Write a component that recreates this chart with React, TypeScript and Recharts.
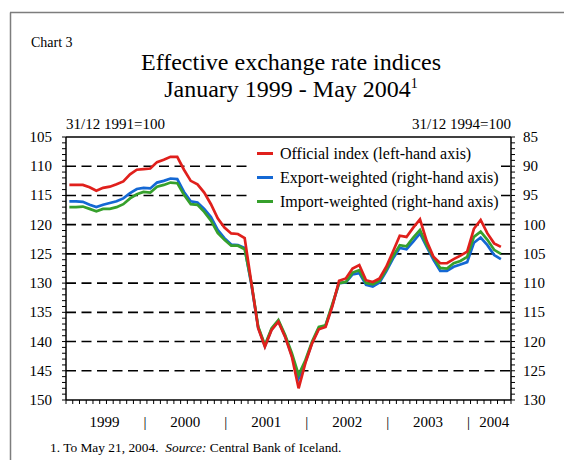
import { LineChart, Line, XAxis, YAxis, ReferenceLine, Legend } from "recharts";

const FONT = '"Liberation Serif", "Times New Roman", serif';
const RED = "#e0201c";
const BLUE = "#1468d4";
const GREEN = "#36a02c";

const years = ["1999", "2000", "2001", "2002", "2003", "2004"];
const monthNames = ["Jan", "Feb", "Mar", "Apr", "May", "Jun", "Jul", "Aug", "Sep", "Oct", "Nov", "Dec"];

// monthly averages, Jan 1999 - May 2004
const official = [
  113.2, 113.2, 113.2, 113.6, 114.2, 113.7, 113.5, 113.1, 112.6, 111.4, 110.6, 110.5,
  110.4, 109.3, 108.9, 108.4, 108.4, 110.6, 112.5, 113.1, 114.5, 116.5, 118.9, 120.5,
  121.5, 121.6, 122.3, 130.0, 137.7, 140.9, 138.0, 136.6, 139.2, 142.6, 148.0, 143.7,
  140.3, 137.9, 137.5, 134.0, 129.6, 129.2, 127.5, 126.9, 129.5, 129.8, 129.2, 127.2,
  124.6, 121.9, 122.1, 120.5, 119.1, 122.8, 125.5, 126.6, 126.6, 125.9, 125.3, 124.6,
  120.7, 119.2, 121.5, 123.2, 123.8,
];
const exportWeighted = [
  96.0, 96.0, 96.1, 96.6, 97.0, 96.6, 96.3, 96.0, 95.5, 94.6, 93.9, 93.7,
  93.8, 92.8, 92.5, 92.1, 92.2, 94.4, 96.0, 96.2, 97.3, 98.7, 100.9, 102.3,
  103.4, 103.5, 104.0, 110.3, 117.6, 120.8, 117.9, 116.5, 119.1, 122.4, 126.3, 123.5,
  120.2, 117.7, 117.3, 113.8, 110.0, 109.9, 108.5, 108.3, 110.3, 110.6, 109.9, 108.0,
  105.8, 104.0, 104.2, 102.9, 101.5, 103.8, 106.0, 107.9, 107.9, 107.2, 106.8, 106.4,
  103.1, 102.2, 103.5, 105.2, 105.9,
];
const importWeighted = [
  97.0, 97.0, 96.9, 97.3, 97.7, 97.3, 97.3, 97.0, 96.5, 95.5, 94.8, 94.4,
  94.5, 93.5, 93.2, 92.8, 92.9, 94.9, 96.5, 96.6, 97.8, 99.3, 101.4, 102.6,
  103.6, 103.6, 104.2, 110.0, 117.4, 120.6, 117.7, 116.3, 118.9, 122.0, 125.7, 123.2,
  120.0, 117.5, 117.2, 113.6, 110.0, 109.8, 108.2, 107.8, 110.0, 110.2, 109.6, 107.7,
  105.4, 103.5, 103.7, 102.2, 100.9, 103.5, 105.6, 107.4, 107.5, 106.6, 106.2, 105.5,
  102.1, 101.2, 102.6, 104.3, 105.0,
];

const leftTicks = Array.from({ length: 46 }, (_, i) => 105 + i);
const rightTicks = Array.from({ length: 46 }, (_, i) => 85 + i);
const gridLevels = [110, 115, 120, 125, 130, 135, 140, 145];
const yearLabelAt = [6, 18, 30, 42, 54, 63.8];
const yearSepAt = [12, 24, 36, 48, 60];
const monthTicks = Array.from({ length: 67 }, (_, i) => i);
const xTicks = [...monthTicks, 63.8].sort((a, b) => a - b);

const series = [
  { key: "official", label: "Official index (left-hand axis)", color: RED },
  { key: "exp", label: "Export-weighted (right-hand axis)", color: BLUE },
  { key: "imp", label: "Import-weighted (right-hand axis)", color: GREEN },
];

const data = official.map((v, i) => ({
  t: i + 0.5,
  month: `${monthNames[i % 12]} ${years[Math.floor(i / 12)]}`,
  official: v,
  exp: exportWeighted[i],
  imp: importWeighted[i],
}));

// eslint-disable-next-line @typescript-eslint/no-explicit-any
function MonthTick({ x, y, payload }: any) {
  const v = payload.value;
  const yr = yearLabelAt.indexOf(v);
  return (
    <g>
      {Number.isInteger(v) && <line x1={x} x2={x} y1={y} y2={y + 4} stroke="#000" strokeWidth={1} />}
      {yr >= 0 && (
        <text x={x - 2} y={y + 26.5} textAnchor="middle" fontSize={15} fontFamily={FONT} fill="#000">
          {years[yr]}
        </text>
      )}
      {yearSepAt.includes(v) && (
        <text x={x - 2} y={y + 26.5} textAnchor="middle" fontSize={15} fontFamily={FONT} fill="#000">
          |
        </text>
      )}
    </g>
  );
}

// eslint-disable-next-line @typescript-eslint/no-explicit-any
function ValueTick({ x, y, payload, textAnchor }: any) {
  if (payload.value % 5 !== 0) return <g />;
  return (
    <text x={x} y={y} dy={5} textAnchor={textAnchor} fontSize={15} fontFamily={FONT} fill="#000">
      {payload.value}
    </text>
  );
}

function LegendBox() {
  return (
    <div style={{ width: 254, height: 72, background: "#fff", position: "relative", fontFamily: FONT }}>
      {series.map((s, i) => (
        <div
          key={s.key}
          style={{ position: "absolute", left: 10, top: 3.5 + i * 24, height: 20, display: "flex", alignItems: "center" }}
        >
          <span style={{ display: "inline-block", width: 16, height: 3, background: s.color, marginRight: 7 }} />
          <span style={{ fontSize: 16, lineHeight: "20px", color: "#000", whiteSpace: "nowrap" }}>{s.label}</span>
        </div>
      ))}
    </div>
  );
}

export default function App() {
  return (
    <div style={{ position: "absolute", left: 0, top: 0, width: 564, height: 460, background: "#fff", fontFamily: FONT }}>
      <LineChart width={564} height={460} data={data} margin={{ top: 137, right: 0, bottom: 30, left: 0 }}>
        <XAxis
          dataKey="t"
          type="number"
          domain={[0, 66]}
          ticks={xTicks}
          interval={0}
          tickLine={false}
          tickSize={0}
          tickMargin={0}
          tick={<MonthTick />}
          axisLine={{ stroke: "#000", strokeWidth: 1.5 }}
          height={30}
        />
        <YAxis
          yAxisId="left"
          orientation="left"
          domain={[105, 150]}
          reversed
          ticks={leftTicks}
          interval={0}
          tickSize={4}
          tickMargin={10}
          width={66}
          tick={<ValueTick />}
          axisLine={{ stroke: "#000", strokeWidth: 1.5 }}
          tickLine={{ stroke: "#000" }}
        />
        <YAxis
          yAxisId="right"
          orientation="right"
          domain={[85, 130]}
          reversed
          ticks={rightTicks}
          interval={0}
          tickSize={4}
          tickMargin={8}
          width={53}
          tick={<ValueTick />}
          axisLine={{ stroke: "#000", strokeWidth: 1.5 }}
          tickLine={{ stroke: "#000" }}
        />
        {gridLevels.map((v) => (
          <ReferenceLine key={v} yAxisId="left" y={v} stroke="#000" strokeWidth={1.6} strokeDasharray="10 5.5" />
        ))}
        <ReferenceLine yAxisId="left" y={105} stroke="#000" strokeWidth={1.5} />
        <Legend
          content={<LegendBox />}
          layout="horizontal"
          verticalAlign="middle"
          align="center"
          wrapperStyle={{ left: 247, top: 140, width: 254, height: 72 }}
        />
        <Line yAxisId="right" type="linear" dataKey="exp" name={series[1].label} stroke={BLUE} strokeWidth={2.7} dot={false} isAnimationActive={false} />
        <Line yAxisId="right" type="linear" dataKey="imp" name={series[2].label} stroke={GREEN} strokeWidth={2.7} dot={false} isAnimationActive={false} />
        <Line yAxisId="left" type="linear" dataKey="official" name={series[0].label} stroke={RED} strokeWidth={2.7} dot={false} isAnimationActive={false} />
      </LineChart>
      <svg width={564} height={460} style={{ position: "absolute", left: 0, top: 0, pointerEvents: "none" }}>
        <line x1={10.5} x2={10.5} y1={12.5} y2={460} stroke="#7d7d7d" strokeWidth={1.5} />
        <line x1={10} x2={564} y1={12.5} y2={12.5} stroke="#7d7d7d" strokeWidth={1.5} />
        <text x={31} y={46.5} fontSize={14} fontFamily={FONT} fill="#000">Chart 3</text>
        <text x={291} y={70} fontSize={24} textAnchor="middle" fontFamily={FONT} fill="#000">
          Effective exchange rate indices
        </text>
        <text x={291} y={97} fontSize={24} textAnchor="middle" fontFamily={FONT} fill="#000">
          January 1999 - May 2004<tspan dy={-9} fontSize={14}>1</tspan>
        </text>
        <text x={66} y={128.5} fontSize={15} fontFamily={FONT} fill="#000">31/12 1991=100</text>
        <text x={511} y={128.5} fontSize={15} textAnchor="end" fontFamily={FONT} fill="#000">31/12 1994=100</text>
        <text x={50} y={451.5} fontSize={13.4} fontFamily={FONT} fill="#000">
          1. To May 21, 2004.{"\u00a0\u00a0"}<tspan fontStyle="italic">Source:</tspan> Central Bank of Iceland.
        </text>
      </svg>
    </div>
  );
}
